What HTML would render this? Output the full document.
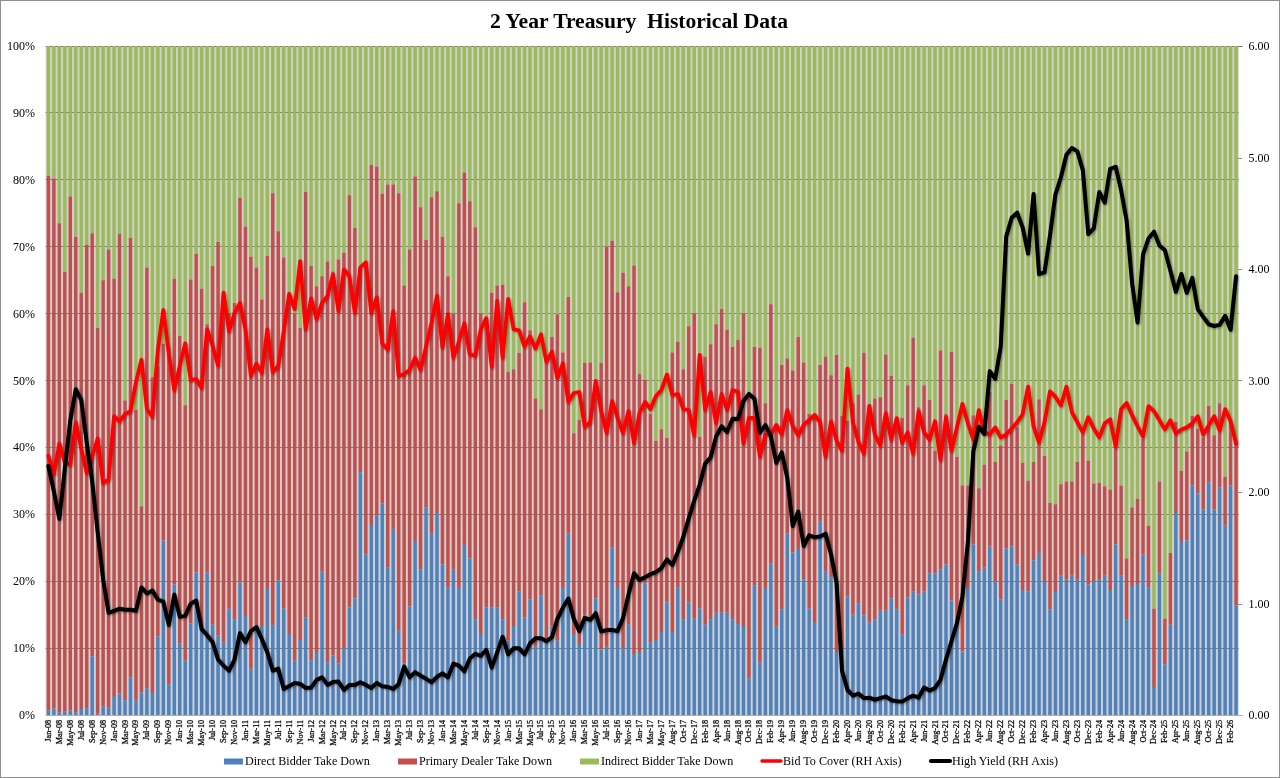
<!DOCTYPE html>
<html lang="en"><head><meta charset="utf-8"><title>2 Year Treasury Historical Data</title>
<style>
html,body{margin:0;padding:0;background:#fff;}
body{width:1280px;height:778px;overflow:hidden;font-family:"Liberation Serif",serif;}
svg{display:block;}
text{font-family:"Liberation Serif",serif;fill:#000;}
</style></head><body>
<svg width="1280" height="778" viewBox="0 0 1280 778">
<defs>
<filter id="sh" x="-5%" y="-5%" width="110%" height="110%"><feGaussianBlur in="SourceAlpha" stdDeviation="1.0"/><feOffset dx="1.2" dy="1.2"/><feComponentTransfer><feFuncA type="linear" slope="0.4"/></feComponentTransfer><feMerge><feMergeNode/><feMergeNode in="SourceGraphic"/></feMerge></filter>
</defs>
<rect x="0" y="0" width="1280" height="778" fill="#ffffff"/>
<rect x="0.5" y="0.5" width="1279" height="777" fill="none" stroke="#8e8e8e" stroke-width="1"/>
<rect x="45.66" y="46.0" width="1193.1399999999999" height="669.0" fill="#d0d0d0"/>
<line x1="45.66" y1="648.5" x2="1238.8" y2="648.5" stroke="#868686" stroke-width="1"/>
<line x1="45.66" y1="581.5" x2="1238.8" y2="581.5" stroke="#868686" stroke-width="1"/>
<line x1="45.66" y1="514.5" x2="1238.8" y2="514.5" stroke="#868686" stroke-width="1"/>
<line x1="45.66" y1="447.5" x2="1238.8" y2="447.5" stroke="#868686" stroke-width="1"/>
<line x1="45.66" y1="380.5" x2="1238.8" y2="380.5" stroke="#868686" stroke-width="1"/>
<line x1="45.66" y1="313.5" x2="1238.8" y2="313.5" stroke="#868686" stroke-width="1"/>
<line x1="45.66" y1="246.5" x2="1238.8" y2="246.5" stroke="#868686" stroke-width="1"/>
<line x1="45.66" y1="179.5" x2="1238.8" y2="179.5" stroke="#868686" stroke-width="1"/>
<line x1="45.66" y1="112.5" x2="1238.8" y2="112.5" stroke="#868686" stroke-width="1"/>
<line x1="45.66" y1="46.5" x2="1242.8" y2="46.5" stroke="#7a7a6a" stroke-width="1"/>
<line x1="45.66" y1="715.5" x2="1242.8" y2="715.5" stroke="#b0b0b0" stroke-width="1"/>
<path fill="#9bbb59" d="M46.65 46.0h3.5V175.79h-3.5zM52.12 46.0h3.5V178.46h-3.5zM57.59 46.0h3.5V223.29h-3.5zM63.07 46.0h3.5V272.12h-3.5zM68.54 46.0h3.5V196.52h-3.5zM74.01 46.0h3.5V236.67h-3.5zM79.49 46.0h3.5V292.86h-3.5zM84.96 46.0h3.5V244.69h-3.5zM90.43 46.0h3.5V233.32h-3.5zM95.90 46.0h3.5V327.65h-3.5zM101.38 46.0h3.5V280.15h-3.5zM106.85 46.0h3.5V249.38h-3.5zM112.32 46.0h3.5V278.81h-3.5zM117.80 46.0h3.5V233.99h-3.5zM123.27 46.0h3.5V400.57h-3.5zM128.74 46.0h3.5V238.00h-3.5zM134.22 46.0h3.5V409.94h-3.5zM139.69 46.0h3.5V506.27h-3.5zM145.16 46.0h3.5V267.44h-3.5zM150.64 46.0h3.5V377.15h-3.5zM156.11 46.0h3.5V367.12h-3.5zM161.58 46.0h3.5V343.70h-3.5zM167.06 46.0h3.5V347.05h-3.5zM172.53 46.0h3.5V278.81h-3.5zM178.00 46.0h3.5V335.68h-3.5zM183.47 46.0h3.5V405.25h-3.5zM188.95 46.0h3.5V279.48h-3.5zM194.42 46.0h3.5V254.06h-3.5zM199.89 46.0h3.5V288.85h-3.5zM205.37 46.0h3.5V324.30h-3.5zM210.84 46.0h3.5V266.10h-3.5zM216.31 46.0h3.5V242.02h-3.5zM221.79 46.0h3.5V293.53h-3.5zM227.26 46.0h3.5V313.60h-3.5zM232.73 46.0h3.5V302.90h-3.5zM238.21 46.0h3.5V197.86h-3.5zM243.68 46.0h3.5V226.63h-3.5zM249.15 46.0h3.5V256.73h-3.5zM254.63 46.0h3.5V267.44h-3.5zM260.10 46.0h3.5V299.55h-3.5zM265.57 46.0h3.5V256.07h-3.5zM271.04 46.0h3.5V193.18h-3.5zM276.52 46.0h3.5V231.31h-3.5zM281.99 46.0h3.5V257.40h-3.5zM287.46 46.0h3.5V293.53h-3.5zM292.94 46.0h3.5V313.60h-3.5zM298.41 46.0h3.5V327.65h-3.5zM303.88 46.0h3.5V191.84h-3.5zM309.36 46.0h3.5V266.10h-3.5zM314.83 46.0h3.5V286.17h-3.5zM320.30 46.0h3.5V276.14h-3.5zM325.78 46.0h3.5V261.42h-3.5zM331.25 46.0h3.5V271.45h-3.5zM336.72 46.0h3.5V259.41h-3.5zM342.19 46.0h3.5V252.72h-3.5zM347.67 46.0h3.5V195.19h-3.5zM353.14 46.0h3.5V227.97h-3.5zM358.61 46.0h3.5V266.77h-3.5zM364.09 46.0h3.5V266.77h-3.5zM369.56 46.0h3.5V165.08h-3.5zM375.03 46.0h3.5V166.42h-3.5zM380.51 46.0h3.5V193.85h-3.5zM385.98 46.0h3.5V184.48h-3.5zM391.45 46.0h3.5V184.48h-3.5zM396.93 46.0h3.5V193.18h-3.5zM402.40 46.0h3.5V285.50h-3.5zM407.87 46.0h3.5V249.38h-3.5zM413.35 46.0h3.5V176.45h-3.5zM418.82 46.0h3.5V207.23h-3.5zM424.29 46.0h3.5V240.01h-3.5zM429.76 46.0h3.5V197.19h-3.5zM435.24 46.0h3.5V191.17h-3.5zM440.71 46.0h3.5V236.67h-3.5zM446.18 46.0h3.5V276.14h-3.5zM451.66 46.0h3.5V313.60h-3.5zM457.13 46.0h3.5V203.21h-3.5zM462.60 46.0h3.5V172.44h-3.5zM468.08 46.0h3.5V201.21h-3.5zM473.55 46.0h3.5V227.30h-3.5zM479.02 46.0h3.5V313.60h-3.5zM484.50 46.0h3.5V317.61h-3.5zM489.97 46.0h3.5V292.86h-3.5zM495.44 46.0h3.5V285.50h-3.5zM500.92 46.0h3.5V284.83h-3.5zM506.39 46.0h3.5V371.80h-3.5zM511.86 46.0h3.5V369.13h-3.5zM517.33 46.0h3.5V353.07h-3.5zM522.81 46.0h3.5V302.23h-3.5zM528.28 46.0h3.5V330.33h-3.5zM533.75 46.0h3.5V398.56h-3.5zM539.23 46.0h3.5V409.27h-3.5zM544.70 46.0h3.5V360.43h-3.5zM550.17 46.0h3.5V337.02h-3.5zM555.65 46.0h3.5V314.27h-3.5zM561.12 46.0h3.5V352.40h-3.5zM566.59 46.0h3.5V296.88h-3.5zM572.07 46.0h3.5V433.35h-3.5zM577.54 46.0h3.5V419.97h-3.5zM583.01 46.0h3.5V363.11h-3.5zM588.49 46.0h3.5V362.44h-3.5zM593.96 46.0h3.5V380.50h-3.5zM599.43 46.0h3.5V363.11h-3.5zM604.90 46.0h3.5V246.70h-3.5zM610.38 46.0h3.5V240.68h-3.5zM615.85 46.0h3.5V292.19h-3.5zM621.32 46.0h3.5V272.79h-3.5zM626.80 46.0h3.5V286.17h-3.5zM632.27 46.0h3.5V265.43h-3.5zM637.74 46.0h3.5V373.81h-3.5zM643.22 46.0h3.5V379.83h-3.5zM648.69 46.0h3.5V413.95h-3.5zM654.16 46.0h3.5V440.71h-3.5zM659.64 46.0h3.5V429.34h-3.5zM665.11 46.0h3.5V438.03h-3.5zM670.58 46.0h3.5V352.40h-3.5zM676.06 46.0h3.5V341.70h-3.5zM681.53 46.0h3.5V369.13h-3.5zM687.00 46.0h3.5V326.31h-3.5zM692.47 46.0h3.5V313.60h-3.5zM697.95 46.0h3.5V436.70h-3.5zM703.42 46.0h3.5V357.08h-3.5zM708.89 46.0h3.5V344.37h-3.5zM714.37 46.0h3.5V324.30h-3.5zM719.84 46.0h3.5V308.92h-3.5zM725.31 46.0h3.5V329.66h-3.5zM730.79 46.0h3.5V347.05h-3.5zM736.26 46.0h3.5V339.69h-3.5zM741.73 46.0h3.5V313.60h-3.5zM747.21 46.0h3.5V393.88h-3.5zM752.68 46.0h3.5V347.05h-3.5zM758.15 46.0h3.5V347.72h-3.5zM763.63 46.0h3.5V403.25h-3.5zM769.10 46.0h3.5V304.23h-3.5zM774.57 46.0h3.5V423.99h-3.5zM780.04 46.0h3.5V365.11h-3.5zM785.52 46.0h3.5V358.42h-3.5zM790.99 46.0h3.5V370.46h-3.5zM796.46 46.0h3.5V337.02h-3.5zM801.94 46.0h3.5V362.44h-3.5zM807.41 46.0h3.5V413.95h-3.5zM812.88 46.0h3.5V413.95h-3.5zM818.36 46.0h3.5V365.11h-3.5zM823.83 46.0h3.5V356.42h-3.5zM829.30 46.0h3.5V375.15h-3.5zM834.78 46.0h3.5V355.08h-3.5zM840.25 46.0h3.5V415.96h-3.5zM845.72 46.0h3.5V420.64h-3.5zM851.20 46.0h3.5V403.25h-3.5zM856.67 46.0h3.5V394.55h-3.5zM862.14 46.0h3.5V353.07h-3.5zM867.61 46.0h3.5V403.91h-3.5zM873.09 46.0h3.5V398.56h-3.5zM878.56 46.0h3.5V397.23h-3.5zM884.03 46.0h3.5V354.41h-3.5zM889.51 46.0h3.5V375.82h-3.5zM894.98 46.0h3.5V417.96h-3.5zM900.45 46.0h3.5V417.96h-3.5zM905.93 46.0h3.5V385.18h-3.5zM911.40 46.0h3.5V337.68h-3.5zM916.87 46.0h3.5V407.26h-3.5zM922.35 46.0h3.5V385.18h-3.5zM927.82 46.0h3.5V399.90h-3.5zM933.29 46.0h3.5V450.75h-3.5zM938.76 46.0h3.5V350.39h-3.5zM944.24 46.0h3.5V413.95h-3.5zM949.71 46.0h3.5V351.73h-3.5zM955.18 46.0h3.5V456.77h-3.5zM960.66 46.0h3.5V485.53h-3.5zM966.13 46.0h3.5V485.53h-3.5zM971.60 46.0h3.5V415.29h-3.5zM977.08 46.0h3.5V488.21h-3.5zM982.55 46.0h3.5V464.79h-3.5zM988.02 46.0h3.5V391.87h-3.5zM993.50 46.0h3.5V462.12h-3.5zM998.97 46.0h3.5V445.39h-3.5zM1004.44 46.0h3.5V399.90h-3.5zM1009.92 46.0h3.5V383.85h-3.5zM1015.39 46.0h3.5V427.33h-3.5zM1020.86 46.0h3.5V462.79h-3.5zM1026.33 46.0h3.5V480.85h-3.5zM1031.81 46.0h3.5V462.12h-3.5zM1037.28 46.0h3.5V399.23h-3.5zM1042.75 46.0h3.5V456.10h-3.5zM1048.23 46.0h3.5V502.93h-3.5zM1053.70 46.0h3.5V504.26h-3.5zM1059.17 46.0h3.5V484.20h-3.5zM1064.65 46.0h3.5V481.52h-3.5zM1070.12 46.0h3.5V481.52h-3.5zM1075.59 46.0h3.5V462.12h-3.5zM1081.07 46.0h3.5V434.02h-3.5zM1086.54 46.0h3.5V460.78h-3.5zM1092.01 46.0h3.5V483.53h-3.5zM1097.49 46.0h3.5V482.86h-3.5zM1102.96 46.0h3.5V486.20h-3.5zM1108.43 46.0h3.5V489.55h-3.5zM1113.90 46.0h3.5V447.40h-3.5zM1119.38 46.0h3.5V485.53h-3.5zM1124.85 46.0h3.5V558.45h-3.5zM1130.32 46.0h3.5V507.61h-3.5zM1135.80 46.0h3.5V498.91h-3.5zM1141.27 46.0h3.5V438.70h-3.5zM1146.74 46.0h3.5V525.67h-3.5zM1152.22 46.0h3.5V608.63h-3.5zM1157.69 46.0h3.5V481.52h-3.5zM1163.16 46.0h3.5V618.66h-3.5zM1168.64 46.0h3.5V553.10h-3.5zM1174.11 46.0h3.5V421.98h-3.5zM1179.58 46.0h3.5V470.81h-3.5zM1185.06 46.0h3.5V451.41h-3.5zM1190.53 46.0h3.5V415.96h-3.5zM1196.00 46.0h3.5V428.67h-3.5zM1201.47 46.0h3.5V437.37h-3.5zM1206.95 46.0h3.5V405.92h-3.5zM1212.42 46.0h3.5V435.36h-3.5zM1217.89 46.0h3.5V403.25h-3.5zM1223.37 46.0h3.5V476.84h-3.5zM1228.84 46.0h3.5V421.31h-3.5zM1234.31 46.0h3.5V442.72h-3.5z"/>
<path fill="#c0504d" d="M46.65 175.79h3.5V710.32h-3.5zM52.12 178.46h3.5V708.31h-3.5zM57.59 223.29h3.5V712.32h-3.5zM63.07 272.12h3.5V711.65h-3.5zM68.54 196.52h3.5V710.32h-3.5zM74.01 236.67h3.5V712.32h-3.5zM79.49 292.86h3.5V708.98h-3.5zM84.96 244.69h3.5V708.31h-3.5zM90.43 233.32h3.5V656.13h-3.5zM95.90 327.65h3.5V713.66h-3.5zM101.38 280.15h3.5V706.30h-3.5zM106.85 249.38h3.5V707.64h-3.5zM112.32 278.81h3.5V696.94h-3.5zM117.80 233.99h3.5V693.59h-3.5zM123.27 400.57h3.5V700.28h-3.5zM128.74 238.00h3.5V677.54h-3.5zM134.22 409.94h3.5V700.28h-3.5zM139.69 506.27h3.5V692.25h-3.5zM145.16 267.44h3.5V688.24h-3.5zM150.64 377.15h3.5V692.92h-3.5zM156.11 367.12h3.5V636.39h-3.5zM161.58 343.70h3.5V540.39h-3.5zM167.06 347.05h3.5V684.23h-3.5zM172.53 278.81h3.5V584.54h-3.5zM178.00 335.68h3.5V643.42h-3.5zM183.47 405.25h3.5V660.81h-3.5zM188.95 279.48h3.5V623.35h-3.5zM194.42 254.06h3.5V572.50h-3.5zM199.89 288.85h3.5V629.37h-3.5zM205.37 324.30h3.5V572.50h-3.5zM210.84 266.10h3.5V624.68h-3.5zM216.31 242.02h3.5V635.39h-3.5zM221.79 293.53h3.5V642.75h-3.5zM227.26 313.60h3.5V608.63h-3.5zM232.73 302.90h3.5V619.33h-3.5zM238.21 197.86h3.5V582.54h-3.5zM243.68 226.63h3.5V615.99h-3.5zM249.15 256.73h3.5V668.84h-3.5zM254.63 267.44h3.5V625.35h-3.5zM260.10 299.55h3.5V626.02h-3.5zM265.57 256.07h3.5V587.89h-3.5zM271.04 193.18h3.5V625.35h-3.5zM276.52 231.31h3.5V580.53h-3.5zM281.99 257.40h3.5V608.63h-3.5zM287.46 293.53h3.5V634.05h-3.5zM292.94 313.60h3.5V660.81h-3.5zM298.41 327.65h3.5V640.07h-3.5zM303.88 191.84h3.5V617.33h-3.5zM309.36 266.10h3.5V660.14h-3.5zM314.83 286.17h3.5V652.11h-3.5zM320.30 276.14h3.5V571.83h-3.5zM325.78 261.42h3.5V662.15h-3.5zM331.25 271.45h3.5V655.46h-3.5zM336.72 259.41h3.5V663.49h-3.5zM342.19 252.72h3.5V648.10h-3.5zM347.67 195.19h3.5V607.29h-3.5zM353.14 227.97h3.5V598.59h-3.5zM358.61 266.77h3.5V472.15h-3.5zM364.09 266.77h3.5V554.44h-3.5zM369.56 165.08h3.5V525.00h-3.5zM375.03 166.42h3.5V515.64h-3.5zM380.51 193.85h3.5V503.60h-3.5zM385.98 184.48h3.5V567.82h-3.5zM391.45 184.48h3.5V529.69h-3.5zM396.93 193.18h3.5V630.71h-3.5zM402.40 285.50h3.5V663.49h-3.5zM407.87 249.38h3.5V606.62h-3.5zM413.35 176.45h3.5V541.06h-3.5zM418.82 207.23h3.5V569.16h-3.5zM424.29 240.01h3.5V507.61h-3.5zM429.76 197.19h3.5V533.70h-3.5zM435.24 191.17h3.5V512.96h-3.5zM440.71 236.67h3.5V564.48h-3.5zM446.18 276.14h3.5V587.22h-3.5zM451.66 313.60h3.5V569.83h-3.5zM457.13 203.21h3.5V587.89h-3.5zM462.60 172.44h3.5V545.07h-3.5zM468.08 201.21h3.5V558.45h-3.5zM473.55 227.30h3.5V619.33h-3.5zM479.02 313.60h3.5V634.05h-3.5zM484.50 317.61h3.5V607.29h-3.5zM489.97 292.86h3.5V607.29h-3.5zM495.44 285.50h3.5V607.29h-3.5zM500.92 284.83h3.5V619.33h-3.5zM506.39 371.80h3.5V640.74h-3.5zM511.86 369.13h3.5V626.02h-3.5zM517.33 353.07h3.5V591.24h-3.5zM522.81 302.23h3.5V617.33h-3.5zM528.28 330.33h3.5V599.26h-3.5zM533.75 398.56h3.5V646.76h-3.5zM539.23 409.27h3.5V595.25h-3.5zM544.70 360.43h3.5V642.75h-3.5zM550.17 337.02h3.5V626.69h-3.5zM555.65 314.27h3.5V640.74h-3.5zM561.12 352.40h3.5V587.89h-3.5zM566.59 296.88h3.5V533.70h-3.5zM572.07 433.35h3.5V634.05h-3.5zM577.54 419.97h3.5V644.09h-3.5zM583.01 363.11h3.5V615.32h-3.5zM588.49 362.44h3.5V618.66h-3.5zM593.96 380.50h3.5V598.59h-3.5zM599.43 363.11h3.5V649.44h-3.5zM604.90 246.70h3.5V646.76h-3.5zM610.38 240.68h3.5V547.75h-3.5zM615.85 292.19h3.5V587.89h-3.5zM621.32 272.79h3.5V648.10h-3.5zM626.80 286.17h3.5V624.68h-3.5zM632.27 265.43h3.5V654.12h-3.5zM637.74 373.81h3.5V652.11h-3.5zM643.22 379.83h3.5V583.21h-3.5zM648.69 413.95h3.5V642.75h-3.5zM654.16 440.71h3.5V640.07h-3.5zM659.64 429.34h3.5V632.04h-3.5zM665.11 438.03h3.5V602.61h-3.5zM670.58 352.40h3.5V632.04h-3.5zM676.06 341.70h3.5V587.22h-3.5zM681.53 369.13h3.5V619.33h-3.5zM687.00 326.31h3.5V602.61h-3.5zM692.47 313.60h3.5V618.66h-3.5zM697.95 436.70h3.5V608.63h-3.5zM703.42 357.08h3.5V624.68h-3.5zM708.89 344.37h3.5V619.33h-3.5zM714.37 324.30h3.5V612.64h-3.5zM719.84 308.92h3.5V612.64h-3.5zM725.31 329.66h3.5V612.64h-3.5zM730.79 347.05h3.5V619.33h-3.5zM736.26 339.69h3.5V624.02h-3.5zM741.73 313.60h3.5V626.02h-3.5zM747.21 393.88h3.5V678.87h-3.5zM752.68 347.05h3.5V585.21h-3.5zM758.15 347.72h3.5V662.15h-3.5zM763.63 403.25h3.5V587.89h-3.5zM769.10 304.23h3.5V563.81h-3.5zM774.57 423.99h3.5V626.69h-3.5zM780.04 365.11h3.5V609.30h-3.5zM785.52 358.42h3.5V533.70h-3.5zM790.99 370.46h3.5V552.43h-3.5zM796.46 337.02h3.5V549.09h-3.5zM801.94 362.44h3.5V579.19h-3.5zM807.41 413.95h3.5V608.63h-3.5zM812.88 413.95h3.5V622.01h-3.5zM818.36 365.11h3.5V521.66h-3.5zM823.83 356.42h3.5V571.83h-3.5zM829.30 375.15h3.5V577.19h-3.5zM834.78 355.08h3.5V652.11h-3.5zM840.25 415.96h3.5V648.10h-3.5zM845.72 420.64h3.5V596.59h-3.5zM851.20 403.25h3.5V614.65h-3.5zM856.67 394.55h3.5V603.28h-3.5zM862.14 353.07h3.5V615.32h-3.5zM867.61 403.91h3.5V622.68h-3.5zM873.09 398.56h3.5V619.33h-3.5zM878.56 397.23h3.5V610.64h-3.5zM884.03 354.41h3.5V610.64h-3.5zM889.51 375.82h3.5V598.59h-3.5zM894.98 417.96h3.5V609.30h-3.5zM900.45 417.96h3.5V634.72h-3.5zM905.93 385.18h3.5V597.26h-3.5zM911.40 337.68h3.5V591.24h-3.5zM916.87 407.26h3.5V594.58h-3.5zM922.35 385.18h3.5V591.24h-3.5zM927.82 399.90h3.5V573.17h-3.5zM933.29 450.75h3.5V573.17h-3.5zM938.76 350.39h3.5V569.16h-3.5zM944.24 413.95h3.5V564.48h-3.5zM949.71 351.73h3.5V600.60h-3.5zM955.18 456.77h3.5V626.02h-3.5zM960.66 485.53h3.5V651.45h-3.5zM966.13 485.53h3.5V587.89h-3.5zM971.60 415.29h3.5V544.40h-3.5zM977.08 488.21h3.5V571.83h-3.5zM982.55 464.79h3.5V567.82h-3.5zM988.02 391.87h3.5V546.41h-3.5zM993.50 462.12h3.5V581.20h-3.5zM998.97 445.39h3.5V599.26h-3.5zM1004.44 399.90h3.5V548.42h-3.5zM1009.92 383.85h3.5V546.41h-3.5zM1015.39 427.33h3.5V564.48h-3.5zM1020.86 462.79h3.5V589.90h-3.5zM1026.33 480.85h3.5V591.24h-3.5zM1031.81 462.12h3.5V560.46h-3.5zM1037.28 399.23h3.5V553.10h-3.5zM1042.75 456.10h3.5V581.87h-3.5zM1048.23 502.93h3.5V609.30h-3.5zM1053.70 504.26h3.5V591.90h-3.5zM1059.17 484.20h3.5V575.85h-3.5zM1064.65 481.52h3.5V579.86h-3.5zM1070.12 481.52h3.5V575.85h-3.5zM1075.59 462.12h3.5V579.86h-3.5zM1081.07 434.02h3.5V555.11h-3.5zM1086.54 460.78h3.5V584.54h-3.5zM1092.01 483.53h3.5V581.20h-3.5zM1097.49 482.86h3.5V579.86h-3.5zM1102.96 486.20h3.5V575.85h-3.5zM1108.43 489.55h3.5V589.90h-3.5zM1113.90 447.40h3.5V544.40h-3.5zM1119.38 485.53h3.5V575.85h-3.5zM1124.85 558.45h3.5V619.33h-3.5zM1130.32 507.61h3.5V585.88h-3.5zM1135.80 498.91h3.5V583.88h-3.5zM1141.27 438.70h3.5V554.44h-3.5zM1146.74 525.67h3.5V587.22h-3.5zM1152.22 608.63h3.5V686.90h-3.5zM1157.69 481.52h3.5V573.17h-3.5zM1163.16 618.66h3.5V664.16h-3.5zM1168.64 553.10h3.5V624.68h-3.5zM1174.11 421.98h3.5V512.96h-3.5zM1179.58 470.81h3.5V541.06h-3.5zM1185.06 451.41h3.5V540.39h-3.5zM1190.53 415.96h3.5V485.53h-3.5zM1196.00 428.67h3.5V493.56h-3.5zM1201.47 437.37h3.5V509.62h-3.5zM1206.95 405.92h3.5V482.19h-3.5zM1212.42 435.36h3.5V509.62h-3.5zM1217.89 403.25h3.5V487.54h-3.5zM1223.37 476.84h3.5V525.67h-3.5zM1228.84 421.31h3.5V485.53h-3.5zM1234.31 442.72h3.5V605.28h-3.5z"/>
<path fill="#4f81bd" d="M46.65 710.32h3.5V715.0h-3.5zM52.12 708.31h3.5V715.0h-3.5zM57.59 712.32h3.5V715.0h-3.5zM63.07 711.65h3.5V715.0h-3.5zM68.54 710.32h3.5V715.0h-3.5zM74.01 712.32h3.5V715.0h-3.5zM79.49 708.98h3.5V715.0h-3.5zM84.96 708.31h3.5V715.0h-3.5zM90.43 656.13h3.5V715.0h-3.5zM95.90 713.66h3.5V715.0h-3.5zM101.38 706.30h3.5V715.0h-3.5zM106.85 707.64h3.5V715.0h-3.5zM112.32 696.94h3.5V715.0h-3.5zM117.80 693.59h3.5V715.0h-3.5zM123.27 700.28h3.5V715.0h-3.5zM128.74 677.54h3.5V715.0h-3.5zM134.22 700.28h3.5V715.0h-3.5zM139.69 692.25h3.5V715.0h-3.5zM145.16 688.24h3.5V715.0h-3.5zM150.64 692.92h3.5V715.0h-3.5zM156.11 636.39h3.5V715.0h-3.5zM161.58 540.39h3.5V715.0h-3.5zM167.06 684.23h3.5V715.0h-3.5zM172.53 584.54h3.5V715.0h-3.5zM178.00 643.42h3.5V715.0h-3.5zM183.47 660.81h3.5V715.0h-3.5zM188.95 623.35h3.5V715.0h-3.5zM194.42 572.50h3.5V715.0h-3.5zM199.89 629.37h3.5V715.0h-3.5zM205.37 572.50h3.5V715.0h-3.5zM210.84 624.68h3.5V715.0h-3.5zM216.31 635.39h3.5V715.0h-3.5zM221.79 642.75h3.5V715.0h-3.5zM227.26 608.63h3.5V715.0h-3.5zM232.73 619.33h3.5V715.0h-3.5zM238.21 582.54h3.5V715.0h-3.5zM243.68 615.99h3.5V715.0h-3.5zM249.15 668.84h3.5V715.0h-3.5zM254.63 625.35h3.5V715.0h-3.5zM260.10 626.02h3.5V715.0h-3.5zM265.57 587.89h3.5V715.0h-3.5zM271.04 625.35h3.5V715.0h-3.5zM276.52 580.53h3.5V715.0h-3.5zM281.99 608.63h3.5V715.0h-3.5zM287.46 634.05h3.5V715.0h-3.5zM292.94 660.81h3.5V715.0h-3.5zM298.41 640.07h3.5V715.0h-3.5zM303.88 617.33h3.5V715.0h-3.5zM309.36 660.14h3.5V715.0h-3.5zM314.83 652.11h3.5V715.0h-3.5zM320.30 571.83h3.5V715.0h-3.5zM325.78 662.15h3.5V715.0h-3.5zM331.25 655.46h3.5V715.0h-3.5zM336.72 663.49h3.5V715.0h-3.5zM342.19 648.10h3.5V715.0h-3.5zM347.67 607.29h3.5V715.0h-3.5zM353.14 598.59h3.5V715.0h-3.5zM358.61 472.15h3.5V715.0h-3.5zM364.09 554.44h3.5V715.0h-3.5zM369.56 525.00h3.5V715.0h-3.5zM375.03 515.64h3.5V715.0h-3.5zM380.51 503.60h3.5V715.0h-3.5zM385.98 567.82h3.5V715.0h-3.5zM391.45 529.69h3.5V715.0h-3.5zM396.93 630.71h3.5V715.0h-3.5zM402.40 663.49h3.5V715.0h-3.5zM407.87 606.62h3.5V715.0h-3.5zM413.35 541.06h3.5V715.0h-3.5zM418.82 569.16h3.5V715.0h-3.5zM424.29 507.61h3.5V715.0h-3.5zM429.76 533.70h3.5V715.0h-3.5zM435.24 512.96h3.5V715.0h-3.5zM440.71 564.48h3.5V715.0h-3.5zM446.18 587.22h3.5V715.0h-3.5zM451.66 569.83h3.5V715.0h-3.5zM457.13 587.89h3.5V715.0h-3.5zM462.60 545.07h3.5V715.0h-3.5zM468.08 558.45h3.5V715.0h-3.5zM473.55 619.33h3.5V715.0h-3.5zM479.02 634.05h3.5V715.0h-3.5zM484.50 607.29h3.5V715.0h-3.5zM489.97 607.29h3.5V715.0h-3.5zM495.44 607.29h3.5V715.0h-3.5zM500.92 619.33h3.5V715.0h-3.5zM506.39 640.74h3.5V715.0h-3.5zM511.86 626.02h3.5V715.0h-3.5zM517.33 591.24h3.5V715.0h-3.5zM522.81 617.33h3.5V715.0h-3.5zM528.28 599.26h3.5V715.0h-3.5zM533.75 646.76h3.5V715.0h-3.5zM539.23 595.25h3.5V715.0h-3.5zM544.70 642.75h3.5V715.0h-3.5zM550.17 626.69h3.5V715.0h-3.5zM555.65 640.74h3.5V715.0h-3.5zM561.12 587.89h3.5V715.0h-3.5zM566.59 533.70h3.5V715.0h-3.5zM572.07 634.05h3.5V715.0h-3.5zM577.54 644.09h3.5V715.0h-3.5zM583.01 615.32h3.5V715.0h-3.5zM588.49 618.66h3.5V715.0h-3.5zM593.96 598.59h3.5V715.0h-3.5zM599.43 649.44h3.5V715.0h-3.5zM604.90 646.76h3.5V715.0h-3.5zM610.38 547.75h3.5V715.0h-3.5zM615.85 587.89h3.5V715.0h-3.5zM621.32 648.10h3.5V715.0h-3.5zM626.80 624.68h3.5V715.0h-3.5zM632.27 654.12h3.5V715.0h-3.5zM637.74 652.11h3.5V715.0h-3.5zM643.22 583.21h3.5V715.0h-3.5zM648.69 642.75h3.5V715.0h-3.5zM654.16 640.07h3.5V715.0h-3.5zM659.64 632.04h3.5V715.0h-3.5zM665.11 602.61h3.5V715.0h-3.5zM670.58 632.04h3.5V715.0h-3.5zM676.06 587.22h3.5V715.0h-3.5zM681.53 619.33h3.5V715.0h-3.5zM687.00 602.61h3.5V715.0h-3.5zM692.47 618.66h3.5V715.0h-3.5zM697.95 608.63h3.5V715.0h-3.5zM703.42 624.68h3.5V715.0h-3.5zM708.89 619.33h3.5V715.0h-3.5zM714.37 612.64h3.5V715.0h-3.5zM719.84 612.64h3.5V715.0h-3.5zM725.31 612.64h3.5V715.0h-3.5zM730.79 619.33h3.5V715.0h-3.5zM736.26 624.02h3.5V715.0h-3.5zM741.73 626.02h3.5V715.0h-3.5zM747.21 678.87h3.5V715.0h-3.5zM752.68 585.21h3.5V715.0h-3.5zM758.15 662.15h3.5V715.0h-3.5zM763.63 587.89h3.5V715.0h-3.5zM769.10 563.81h3.5V715.0h-3.5zM774.57 626.69h3.5V715.0h-3.5zM780.04 609.30h3.5V715.0h-3.5zM785.52 533.70h3.5V715.0h-3.5zM790.99 552.43h3.5V715.0h-3.5zM796.46 549.09h3.5V715.0h-3.5zM801.94 579.19h3.5V715.0h-3.5zM807.41 608.63h3.5V715.0h-3.5zM812.88 622.01h3.5V715.0h-3.5zM818.36 521.66h3.5V715.0h-3.5zM823.83 571.83h3.5V715.0h-3.5zM829.30 577.19h3.5V715.0h-3.5zM834.78 652.11h3.5V715.0h-3.5zM840.25 648.10h3.5V715.0h-3.5zM845.72 596.59h3.5V715.0h-3.5zM851.20 614.65h3.5V715.0h-3.5zM856.67 603.28h3.5V715.0h-3.5zM862.14 615.32h3.5V715.0h-3.5zM867.61 622.68h3.5V715.0h-3.5zM873.09 619.33h3.5V715.0h-3.5zM878.56 610.64h3.5V715.0h-3.5zM884.03 610.64h3.5V715.0h-3.5zM889.51 598.59h3.5V715.0h-3.5zM894.98 609.30h3.5V715.0h-3.5zM900.45 634.72h3.5V715.0h-3.5zM905.93 597.26h3.5V715.0h-3.5zM911.40 591.24h3.5V715.0h-3.5zM916.87 594.58h3.5V715.0h-3.5zM922.35 591.24h3.5V715.0h-3.5zM927.82 573.17h3.5V715.0h-3.5zM933.29 573.17h3.5V715.0h-3.5zM938.76 569.16h3.5V715.0h-3.5zM944.24 564.48h3.5V715.0h-3.5zM949.71 600.60h3.5V715.0h-3.5zM955.18 626.02h3.5V715.0h-3.5zM960.66 651.45h3.5V715.0h-3.5zM966.13 587.89h3.5V715.0h-3.5zM971.60 544.40h3.5V715.0h-3.5zM977.08 571.83h3.5V715.0h-3.5zM982.55 567.82h3.5V715.0h-3.5zM988.02 546.41h3.5V715.0h-3.5zM993.50 581.20h3.5V715.0h-3.5zM998.97 599.26h3.5V715.0h-3.5zM1004.44 548.42h3.5V715.0h-3.5zM1009.92 546.41h3.5V715.0h-3.5zM1015.39 564.48h3.5V715.0h-3.5zM1020.86 589.90h3.5V715.0h-3.5zM1026.33 591.24h3.5V715.0h-3.5zM1031.81 560.46h3.5V715.0h-3.5zM1037.28 553.10h3.5V715.0h-3.5zM1042.75 581.87h3.5V715.0h-3.5zM1048.23 609.30h3.5V715.0h-3.5zM1053.70 591.90h3.5V715.0h-3.5zM1059.17 575.85h3.5V715.0h-3.5zM1064.65 579.86h3.5V715.0h-3.5zM1070.12 575.85h3.5V715.0h-3.5zM1075.59 579.86h3.5V715.0h-3.5zM1081.07 555.11h3.5V715.0h-3.5zM1086.54 584.54h3.5V715.0h-3.5zM1092.01 581.20h3.5V715.0h-3.5zM1097.49 579.86h3.5V715.0h-3.5zM1102.96 575.85h3.5V715.0h-3.5zM1108.43 589.90h3.5V715.0h-3.5zM1113.90 544.40h3.5V715.0h-3.5zM1119.38 575.85h3.5V715.0h-3.5zM1124.85 619.33h3.5V715.0h-3.5zM1130.32 585.88h3.5V715.0h-3.5zM1135.80 583.88h3.5V715.0h-3.5zM1141.27 554.44h3.5V715.0h-3.5zM1146.74 587.22h3.5V715.0h-3.5zM1152.22 686.90h3.5V715.0h-3.5zM1157.69 573.17h3.5V715.0h-3.5zM1163.16 664.16h3.5V715.0h-3.5zM1168.64 624.68h3.5V715.0h-3.5zM1174.11 512.96h3.5V715.0h-3.5zM1179.58 541.06h3.5V715.0h-3.5zM1185.06 540.39h3.5V715.0h-3.5zM1190.53 485.53h3.5V715.0h-3.5zM1196.00 493.56h3.5V715.0h-3.5zM1201.47 509.62h3.5V715.0h-3.5zM1206.95 482.19h3.5V715.0h-3.5zM1212.42 509.62h3.5V715.0h-3.5zM1217.89 487.54h3.5V715.0h-3.5zM1223.37 525.67h3.5V715.0h-3.5zM1228.84 485.53h3.5V715.0h-3.5zM1234.31 605.28h3.5V715.0h-3.5z"/>
<line x1="45.66" y1="648.5" x2="1238.8" y2="648.5" stroke="#404040" stroke-width="1" opacity="0.05"/>
<line x1="45.66" y1="581.5" x2="1238.8" y2="581.5" stroke="#404040" stroke-width="1" opacity="0.05"/>
<line x1="45.66" y1="514.5" x2="1238.8" y2="514.5" stroke="#404040" stroke-width="1" opacity="0.05"/>
<line x1="45.66" y1="447.5" x2="1238.8" y2="447.5" stroke="#404040" stroke-width="1" opacity="0.05"/>
<line x1="45.66" y1="380.5" x2="1238.8" y2="380.5" stroke="#404040" stroke-width="1" opacity="0.05"/>
<line x1="45.66" y1="313.5" x2="1238.8" y2="313.5" stroke="#404040" stroke-width="1" opacity="0.05"/>
<line x1="45.66" y1="246.5" x2="1238.8" y2="246.5" stroke="#404040" stroke-width="1" opacity="0.05"/>
<line x1="45.66" y1="179.5" x2="1238.8" y2="179.5" stroke="#404040" stroke-width="1" opacity="0.05"/>
<line x1="45.66" y1="112.5" x2="1238.8" y2="112.5" stroke="#404040" stroke-width="1" opacity="0.05"/>
<polyline points="48.40,455.83 53.87,474.11 59.34,443.64 64.82,462.40 70.29,464.70 75.76,422.31 81.24,448.72 86.71,473.09 92.18,456.84 97.65,438.56 103.13,483.25 108.60,479.19 114.07,416.22 119.55,421.30 125.02,414.19 130.49,411.14 135.97,382.12 141.44,359.78 146.91,409.00 152.39,416.90 157.86,349.62 163.33,310.02 168.81,353.69 174.28,390.25 179.75,365.88 185.22,343.53 190.70,380.09 196.17,379.08 201.64,388.22 207.12,329.31 212.59,345.56 218.06,365.88 223.54,292.75 229.01,331.34 234.48,313.06 239.96,302.91 245.43,329.31 250.90,376.03 256.38,363.84 261.85,372.98 267.32,329.31 272.79,371.97 278.27,365.88 283.74,331.34 289.21,293.77 294.69,309.00 300.16,261.27 305.63,329.31 311.11,298.44 316.58,319.16 322.05,302.91 327.53,295.80 333.00,274.47 338.47,311.03 343.94,269.39 349.42,276.50 354.89,313.06 360.36,267.36 365.84,262.28 371.31,313.06 376.78,297.22 382.26,343.53 387.73,349.62 393.20,311.03 398.68,376.03 404.15,374.00 409.62,369.94 415.10,357.75 420.57,369.94 426.04,346.58 431.51,323.22 436.99,295.80 442.46,347.59 447.93,314.08 453.41,357.75 458.88,341.50 464.35,323.22 469.83,354.70 475.30,355.72 480.77,329.31 486.25,318.14 491.72,366.89 497.19,300.88 502.67,357.75 508.14,298.84 513.61,329.31 519.08,330.33 524.56,346.58 530.03,336.42 535.50,348.61 540.98,334.39 546.45,361.81 551.92,351.66 557.40,378.06 562.87,363.40 568.34,402.00 573.82,393.00 579.29,392.00 584.76,427.00 590.24,422.00 595.71,381.00 601.18,411.00 606.65,433.00 612.13,401.00 617.60,418.00 623.07,433.00 628.55,411.00 634.02,443.00 639.49,413.00 644.97,402.00 650.44,409.00 655.91,396.00 661.39,390.00 666.86,374.60 672.33,395.00 677.81,394.00 683.28,409.00 688.75,410.00 694.22,435.50 699.70,355.00 705.17,410.00 710.64,392.00 716.12,423.00 721.59,394.00 727.06,410.00 732.54,390.00 738.01,392.00 743.48,443.60 748.96,418.00 754.43,418.00 759.90,456.80 765.38,434.50 770.85,434.50 776.32,425.00 781.79,434.50 787.27,410.00 792.74,426.00 798.21,435.50 803.69,425.00 809.16,420.00 814.63,415.00 820.11,422.31 825.58,456.84 831.05,421.30 836.53,440.59 842.00,450.75 847.47,368.60 852.95,422.70 858.42,441.60 863.89,453.80 869.36,406.06 874.84,434.50 880.31,445.67 885.78,413.17 891.26,439.58 896.73,418.25 902.20,442.62 907.68,432.47 913.15,453.80 918.62,411.14 924.10,432.47 929.57,439.58 935.04,421.30 940.51,459.89 945.99,417.23 951.46,450.75 956.93,427.39 962.41,404.03 967.88,423.33 973.35,439.58 978.83,410.12 984.30,432.47 989.77,434.50 995.25,427.39 1000.72,437.55 1006.19,434.50 1011.67,428.41 1017.14,422.31 1022.61,414.19 1028.08,386.70 1033.56,426.38 1039.03,442.62 1044.50,422.31 1049.98,391.40 1055.45,396.90 1060.92,405.50 1066.40,386.70 1071.87,412.16 1077.34,422.31 1082.82,432.47 1088.29,417.23 1093.76,428.41 1099.24,437.55 1104.71,423.33 1110.18,419.27 1115.65,446.69 1121.13,409.11 1126.60,403.02 1132.07,415.20 1137.55,426.38 1143.02,436.53 1148.49,406.06 1153.97,411.14 1159.44,420.28 1164.91,429.42 1170.39,420.28 1175.86,433.48 1181.33,429.42 1186.81,427.39 1192.28,423.33 1197.75,416.22 1203.22,434.50 1208.70,425.36 1214.17,416.22 1219.64,430.44 1225.12,409.11 1230.59,421.30 1236.06,443.64" fill="none" stroke="#ff0000" stroke-width="3.8" stroke-linejoin="round" stroke-linecap="round" filter="url(#sh)"/>
<polyline points="48.40,465.98 53.87,491.38 59.34,518.80 64.82,469.03 70.29,420.28 75.76,389.20 81.24,399.97 86.71,442.62 92.18,481.22 97.65,532.00 103.13,579.30 108.60,612.81 114.07,610.78 119.55,608.75 125.02,609.77 130.49,609.77 135.97,610.78 141.44,587.42 146.91,593.52 152.39,590.47 157.86,599.61 163.33,601.64 168.81,625.00 174.28,594.53 179.75,616.88 185.22,615.86 190.70,603.67 196.17,600.62 201.64,629.06 207.12,635.16 212.59,642.27 218.06,659.53 223.54,665.62 229.01,670.70 234.48,659.53 239.96,633.12 245.43,642.27 250.90,631.09 256.38,627.03 261.85,639.22 267.32,652.42 272.79,670.70 278.27,668.67 283.74,688.98 289.21,685.94 294.69,682.89 300.16,683.91 305.63,687.97 311.11,687.56 316.58,679.84 322.05,677.41 327.53,684.92 333.00,681.88 338.47,681.47 343.94,690.00 349.42,684.92 354.89,684.92 360.36,682.28 365.84,684.92 371.31,687.97 376.78,682.89 382.26,686.34 387.73,686.95 393.20,688.98 398.68,683.91 404.15,666.64 409.62,677.41 415.10,672.12 420.57,675.78 426.04,678.83 431.51,682.28 436.99,676.80 442.46,673.34 447.93,677.41 453.41,663.59 458.88,665.62 464.35,671.31 469.83,658.52 475.30,653.84 480.77,655.88 486.25,649.78 491.72,667.66 497.19,652.42 502.67,636.78 508.14,654.45 513.61,648.36 519.08,648.36 524.56,654.45 530.03,643.28 535.50,638.20 540.98,638.20 546.45,641.25 551.92,637.19 557.40,618.91 562.87,607.73 568.34,598.59 573.82,618.91 579.29,631.09 584.76,617.89 590.24,619.92 595.71,613.22 601.18,631.50 606.65,630.08 612.13,630.08 617.60,631.09 623.07,617.89 628.55,594.53 634.02,573.20 639.49,579.91 644.97,577.27 650.44,574.22 655.91,572.19 661.39,568.12 666.86,559.46 672.33,565.03 677.81,551.99 683.28,537.05 688.75,518.20 694.22,500.70 699.70,484.64 705.17,463.57 710.64,457.44 716.12,436.47 721.59,426.22 727.06,432.01 732.54,418.74 738.01,418.97 743.48,400.90 748.96,393.88 754.43,398.79 759.90,432.46 765.38,425.10 770.85,436.03 776.32,462.90 781.79,452.42 787.27,478.06 792.74,526.01 798.21,511.51 803.69,545.97 809.16,535.26 814.63,537.27 820.11,536.49 825.58,533.70 831.05,554.44 836.53,582.54 842.00,670.62 847.47,690.00 852.95,695.69 858.42,693.66 863.89,698.12 869.36,697.72 874.84,699.75 880.31,698.12 885.78,696.50 891.26,700.16 896.73,701.17 902.20,701.58 907.68,698.12 913.15,695.69 918.62,697.72 924.10,687.56 929.57,690.61 935.04,687.97 940.51,679.84 945.99,659.53 951.46,641.25 956.93,622.97 962.41,596.56 967.88,541.84 973.35,451.30 978.83,426.77 984.30,434.13 989.77,371.13 995.25,378.83 1000.72,346.27 1006.19,236.67 1011.67,217.71 1017.14,212.69 1022.61,227.41 1028.08,253.50 1033.56,193.96 1039.03,274.13 1044.50,272.46 1049.98,235.55 1055.45,194.29 1060.92,177.24 1066.40,154.82 1071.87,148.02 1077.34,151.37 1082.82,170.10 1088.29,233.99 1093.76,228.30 1099.24,191.95 1104.71,202.66 1110.18,168.87 1115.65,166.75 1121.13,190.28 1126.60,220.61 1132.07,283.05 1137.55,322.52 1143.02,254.50 1148.49,238.45 1153.97,231.65 1159.44,245.47 1164.91,250.16 1170.39,270.78 1175.86,291.86 1181.33,274.02 1186.81,292.86 1192.28,277.92 1197.75,309.03 1203.22,316.83 1208.70,324.30 1214.17,325.98 1219.64,324.86 1225.12,315.83 1230.59,329.77 1236.06,276.25" fill="none" stroke="#000000" stroke-width="4.0" stroke-linejoin="round" stroke-linecap="round" filter="url(#sh)"/>
<text x="639" y="28.4" text-anchor="middle" font-size="21.6" font-weight="bold" xml:space="preserve">2 Year Treasury  Historical Data</text>
<text x="35" y="719.0" text-anchor="end" font-size="12">0%</text>
<text x="35" y="652.1" text-anchor="end" font-size="12">10%</text>
<text x="35" y="585.2" text-anchor="end" font-size="12">20%</text>
<text x="35" y="518.3" text-anchor="end" font-size="12">30%</text>
<text x="35" y="451.4" text-anchor="end" font-size="12">40%</text>
<text x="35" y="384.5" text-anchor="end" font-size="12">50%</text>
<text x="35" y="317.6" text-anchor="end" font-size="12">60%</text>
<text x="35" y="250.7" text-anchor="end" font-size="12">70%</text>
<text x="35" y="183.8" text-anchor="end" font-size="12">80%</text>
<text x="35" y="116.9" text-anchor="end" font-size="12">90%</text>
<text x="35" y="50.0" text-anchor="end" font-size="12">100%</text>
<text x="1248.6" y="719.0" font-size="12">0.00</text>
<line x1="1238.3" y1="604.5" x2="1242.3" y2="604.5" stroke="#8a8a8a" stroke-width="1"/>
<text x="1248.6" y="607.5" font-size="12">1.00</text>
<line x1="1238.3" y1="492.5" x2="1242.3" y2="492.5" stroke="#8a8a8a" stroke-width="1"/>
<text x="1248.6" y="496.0" font-size="12">2.00</text>
<line x1="1238.3" y1="380.5" x2="1242.3" y2="380.5" stroke="#8a8a8a" stroke-width="1"/>
<text x="1248.6" y="384.5" font-size="12">3.00</text>
<line x1="1238.3" y1="269.5" x2="1242.3" y2="269.5" stroke="#8a8a8a" stroke-width="1"/>
<text x="1248.6" y="273.0" font-size="12">4.00</text>
<line x1="1238.3" y1="158.5" x2="1242.3" y2="158.5" stroke="#8a8a8a" stroke-width="1"/>
<text x="1248.6" y="161.5" font-size="12">5.00</text>
<text x="1248.6" y="50.0" font-size="12">6.00</text>
<text transform="translate(50.90,719.8) rotate(-90) scale(1.0,1)" text-anchor="end" font-size="8.2" stroke="#000" stroke-width="0.25">Jan-08</text>
<text transform="translate(61.84,719.8) rotate(-90) scale(1.0,1)" text-anchor="end" font-size="8.2" stroke="#000" stroke-width="0.25">Mar-08</text>
<text transform="translate(72.79,719.8) rotate(-90) scale(1.0,1)" text-anchor="end" font-size="8.2" stroke="#000" stroke-width="0.25">May-08</text>
<text transform="translate(83.74,719.8) rotate(-90) scale(1.0,1)" text-anchor="end" font-size="8.2" stroke="#000" stroke-width="0.25">Jul-08</text>
<text transform="translate(94.68,719.8) rotate(-90) scale(1.0,1)" text-anchor="end" font-size="8.2" stroke="#000" stroke-width="0.25">Sep-08</text>
<text transform="translate(105.63,719.8) rotate(-90) scale(1.0,1)" text-anchor="end" font-size="8.2" stroke="#000" stroke-width="0.25">Nov-08</text>
<text transform="translate(116.57,719.8) rotate(-90) scale(1.0,1)" text-anchor="end" font-size="8.2" stroke="#000" stroke-width="0.25">Jan-09</text>
<text transform="translate(127.52,719.8) rotate(-90) scale(1.0,1)" text-anchor="end" font-size="8.2" stroke="#000" stroke-width="0.25">Mar-09</text>
<text transform="translate(138.47,719.8) rotate(-90) scale(1.0,1)" text-anchor="end" font-size="8.2" stroke="#000" stroke-width="0.25">May-09</text>
<text transform="translate(149.41,719.8) rotate(-90) scale(1.0,1)" text-anchor="end" font-size="8.2" stroke="#000" stroke-width="0.25">Jul-09</text>
<text transform="translate(160.36,719.8) rotate(-90) scale(1.0,1)" text-anchor="end" font-size="8.2" stroke="#000" stroke-width="0.25">Sep-09</text>
<text transform="translate(171.31,719.8) rotate(-90) scale(1.0,1)" text-anchor="end" font-size="8.2" stroke="#000" stroke-width="0.25">Nov-09</text>
<text transform="translate(182.25,719.8) rotate(-90) scale(1.0,1)" text-anchor="end" font-size="8.2" stroke="#000" stroke-width="0.25">Jan-10</text>
<text transform="translate(193.20,719.8) rotate(-90) scale(1.0,1)" text-anchor="end" font-size="8.2" stroke="#000" stroke-width="0.25">Mar-10</text>
<text transform="translate(204.14,719.8) rotate(-90) scale(1.0,1)" text-anchor="end" font-size="8.2" stroke="#000" stroke-width="0.25">May-10</text>
<text transform="translate(215.09,719.8) rotate(-90) scale(1.0,1)" text-anchor="end" font-size="8.2" stroke="#000" stroke-width="0.25">Jul-10</text>
<text transform="translate(226.04,719.8) rotate(-90) scale(1.0,1)" text-anchor="end" font-size="8.2" stroke="#000" stroke-width="0.25">Sep-10</text>
<text transform="translate(236.98,719.8) rotate(-90) scale(1.0,1)" text-anchor="end" font-size="8.2" stroke="#000" stroke-width="0.25">Nov-10</text>
<text transform="translate(247.93,719.8) rotate(-90) scale(1.0,1)" text-anchor="end" font-size="8.2" stroke="#000" stroke-width="0.25">Jan-11</text>
<text transform="translate(258.88,719.8) rotate(-90) scale(1.0,1)" text-anchor="end" font-size="8.2" stroke="#000" stroke-width="0.25">Mar-11</text>
<text transform="translate(269.82,719.8) rotate(-90) scale(1.0,1)" text-anchor="end" font-size="8.2" stroke="#000" stroke-width="0.25">May-11</text>
<text transform="translate(280.77,719.8) rotate(-90) scale(1.0,1)" text-anchor="end" font-size="8.2" stroke="#000" stroke-width="0.25">Jul-11</text>
<text transform="translate(291.71,719.8) rotate(-90) scale(1.0,1)" text-anchor="end" font-size="8.2" stroke="#000" stroke-width="0.25">Sep-11</text>
<text transform="translate(302.66,719.8) rotate(-90) scale(1.0,1)" text-anchor="end" font-size="8.2" stroke="#000" stroke-width="0.25">Nov-11</text>
<text transform="translate(313.61,719.8) rotate(-90) scale(1.0,1)" text-anchor="end" font-size="8.2" stroke="#000" stroke-width="0.25">Jan-12</text>
<text transform="translate(324.55,719.8) rotate(-90) scale(1.0,1)" text-anchor="end" font-size="8.2" stroke="#000" stroke-width="0.25">Mar-12</text>
<text transform="translate(335.50,719.8) rotate(-90) scale(1.0,1)" text-anchor="end" font-size="8.2" stroke="#000" stroke-width="0.25">May-12</text>
<text transform="translate(346.44,719.8) rotate(-90) scale(1.0,1)" text-anchor="end" font-size="8.2" stroke="#000" stroke-width="0.25">Jul-12</text>
<text transform="translate(357.39,719.8) rotate(-90) scale(1.0,1)" text-anchor="end" font-size="8.2" stroke="#000" stroke-width="0.25">Sep-12</text>
<text transform="translate(368.34,719.8) rotate(-90) scale(1.0,1)" text-anchor="end" font-size="8.2" stroke="#000" stroke-width="0.25">Nov-12</text>
<text transform="translate(379.28,719.8) rotate(-90) scale(1.0,1)" text-anchor="end" font-size="8.2" stroke="#000" stroke-width="0.25">Jan-13</text>
<text transform="translate(390.23,719.8) rotate(-90) scale(1.0,1)" text-anchor="end" font-size="8.2" stroke="#000" stroke-width="0.25">Mar-13</text>
<text transform="translate(401.18,719.8) rotate(-90) scale(1.0,1)" text-anchor="end" font-size="8.2" stroke="#000" stroke-width="0.25">May-13</text>
<text transform="translate(412.12,719.8) rotate(-90) scale(1.0,1)" text-anchor="end" font-size="8.2" stroke="#000" stroke-width="0.25">Jul-13</text>
<text transform="translate(423.07,719.8) rotate(-90) scale(1.0,1)" text-anchor="end" font-size="8.2" stroke="#000" stroke-width="0.25">Sep-13</text>
<text transform="translate(434.01,719.8) rotate(-90) scale(1.0,1)" text-anchor="end" font-size="8.2" stroke="#000" stroke-width="0.25">Nov-13</text>
<text transform="translate(444.96,719.8) rotate(-90) scale(1.0,1)" text-anchor="end" font-size="8.2" stroke="#000" stroke-width="0.25">Jan-14</text>
<text transform="translate(455.91,719.8) rotate(-90) scale(1.0,1)" text-anchor="end" font-size="8.2" stroke="#000" stroke-width="0.25">Mar-14</text>
<text transform="translate(466.85,719.8) rotate(-90) scale(1.0,1)" text-anchor="end" font-size="8.2" stroke="#000" stroke-width="0.25">May-14</text>
<text transform="translate(477.80,719.8) rotate(-90) scale(1.0,1)" text-anchor="end" font-size="8.2" stroke="#000" stroke-width="0.25">Jul-14</text>
<text transform="translate(488.75,719.8) rotate(-90) scale(1.0,1)" text-anchor="end" font-size="8.2" stroke="#000" stroke-width="0.25">Sep-14</text>
<text transform="translate(499.69,719.8) rotate(-90) scale(1.0,1)" text-anchor="end" font-size="8.2" stroke="#000" stroke-width="0.25">Nov-14</text>
<text transform="translate(510.64,719.8) rotate(-90) scale(1.0,1)" text-anchor="end" font-size="8.2" stroke="#000" stroke-width="0.25">Jan-15</text>
<text transform="translate(521.58,719.8) rotate(-90) scale(1.0,1)" text-anchor="end" font-size="8.2" stroke="#000" stroke-width="0.25">Mar-15</text>
<text transform="translate(532.53,719.8) rotate(-90) scale(1.0,1)" text-anchor="end" font-size="8.2" stroke="#000" stroke-width="0.25">May-15</text>
<text transform="translate(543.48,719.8) rotate(-90) scale(1.0,1)" text-anchor="end" font-size="8.2" stroke="#000" stroke-width="0.25">Jul-15</text>
<text transform="translate(554.42,719.8) rotate(-90) scale(1.0,1)" text-anchor="end" font-size="8.2" stroke="#000" stroke-width="0.25">Sep-15</text>
<text transform="translate(565.37,719.8) rotate(-90) scale(1.0,1)" text-anchor="end" font-size="8.2" stroke="#000" stroke-width="0.25">Nov-15</text>
<text transform="translate(576.32,719.8) rotate(-90) scale(1.0,1)" text-anchor="end" font-size="8.2" stroke="#000" stroke-width="0.25">Jan-16</text>
<text transform="translate(587.26,719.8) rotate(-90) scale(1.0,1)" text-anchor="end" font-size="8.2" stroke="#000" stroke-width="0.25">Mar-16</text>
<text transform="translate(598.21,719.8) rotate(-90) scale(1.0,1)" text-anchor="end" font-size="8.2" stroke="#000" stroke-width="0.25">May-16</text>
<text transform="translate(609.15,719.8) rotate(-90) scale(1.0,1)" text-anchor="end" font-size="8.2" stroke="#000" stroke-width="0.25">Jul-16</text>
<text transform="translate(620.10,719.8) rotate(-90) scale(1.0,1)" text-anchor="end" font-size="8.2" stroke="#000" stroke-width="0.25">Sep-16</text>
<text transform="translate(631.05,719.8) rotate(-90) scale(1.0,1)" text-anchor="end" font-size="8.2" stroke="#000" stroke-width="0.25">Nov-16</text>
<text transform="translate(641.99,719.8) rotate(-90) scale(1.0,1)" text-anchor="end" font-size="8.2" stroke="#000" stroke-width="0.25">Jan-17</text>
<text transform="translate(652.94,719.8) rotate(-90) scale(1.0,1)" text-anchor="end" font-size="8.2" stroke="#000" stroke-width="0.25">Mar-17</text>
<text transform="translate(663.89,719.8) rotate(-90) scale(1.0,1)" text-anchor="end" font-size="8.2" stroke="#000" stroke-width="0.25">May-17</text>
<text transform="translate(674.83,719.8) rotate(-90) scale(1.0,1)" text-anchor="end" font-size="8.2" stroke="#000" stroke-width="0.25">Aug-17</text>
<text transform="translate(685.78,719.8) rotate(-90) scale(1.0,1)" text-anchor="end" font-size="8.2" stroke="#000" stroke-width="0.25">Oct-17</text>
<text transform="translate(696.72,719.8) rotate(-90) scale(1.0,1)" text-anchor="end" font-size="8.2" stroke="#000" stroke-width="0.25">Dec-17</text>
<text transform="translate(707.67,719.8) rotate(-90) scale(1.0,1)" text-anchor="end" font-size="8.2" stroke="#000" stroke-width="0.25">Feb-18</text>
<text transform="translate(718.62,719.8) rotate(-90) scale(1.0,1)" text-anchor="end" font-size="8.2" stroke="#000" stroke-width="0.25">Apr-18</text>
<text transform="translate(729.56,719.8) rotate(-90) scale(1.0,1)" text-anchor="end" font-size="8.2" stroke="#000" stroke-width="0.25">Jun-18</text>
<text transform="translate(740.51,719.8) rotate(-90) scale(1.0,1)" text-anchor="end" font-size="8.2" stroke="#000" stroke-width="0.25">Aug-18</text>
<text transform="translate(751.46,719.8) rotate(-90) scale(1.0,1)" text-anchor="end" font-size="8.2" stroke="#000" stroke-width="0.25">Oct-18</text>
<text transform="translate(762.40,719.8) rotate(-90) scale(1.0,1)" text-anchor="end" font-size="8.2" stroke="#000" stroke-width="0.25">Dec-18</text>
<text transform="translate(773.35,719.8) rotate(-90) scale(1.0,1)" text-anchor="end" font-size="8.2" stroke="#000" stroke-width="0.25">Feb-19</text>
<text transform="translate(784.29,719.8) rotate(-90) scale(1.0,1)" text-anchor="end" font-size="8.2" stroke="#000" stroke-width="0.25">Apr-19</text>
<text transform="translate(795.24,719.8) rotate(-90) scale(1.0,1)" text-anchor="end" font-size="8.2" stroke="#000" stroke-width="0.25">Jun-19</text>
<text transform="translate(806.19,719.8) rotate(-90) scale(1.0,1)" text-anchor="end" font-size="8.2" stroke="#000" stroke-width="0.25">Aug-19</text>
<text transform="translate(817.13,719.8) rotate(-90) scale(1.0,1)" text-anchor="end" font-size="8.2" stroke="#000" stroke-width="0.25">Oct-19</text>
<text transform="translate(828.08,719.8) rotate(-90) scale(1.0,1)" text-anchor="end" font-size="8.2" stroke="#000" stroke-width="0.25">Dec-19</text>
<text transform="translate(839.03,719.8) rotate(-90) scale(1.0,1)" text-anchor="end" font-size="8.2" stroke="#000" stroke-width="0.25">Feb-20</text>
<text transform="translate(849.97,719.8) rotate(-90) scale(1.0,1)" text-anchor="end" font-size="8.2" stroke="#000" stroke-width="0.25">Apr-20</text>
<text transform="translate(860.92,719.8) rotate(-90) scale(1.0,1)" text-anchor="end" font-size="8.2" stroke="#000" stroke-width="0.25">Jun-20</text>
<text transform="translate(871.86,719.8) rotate(-90) scale(1.0,1)" text-anchor="end" font-size="8.2" stroke="#000" stroke-width="0.25">Aug-20</text>
<text transform="translate(882.81,719.8) rotate(-90) scale(1.0,1)" text-anchor="end" font-size="8.2" stroke="#000" stroke-width="0.25">Oct-20</text>
<text transform="translate(893.76,719.8) rotate(-90) scale(1.0,1)" text-anchor="end" font-size="8.2" stroke="#000" stroke-width="0.25">Dec-20</text>
<text transform="translate(904.70,719.8) rotate(-90) scale(1.0,1)" text-anchor="end" font-size="8.2" stroke="#000" stroke-width="0.25">Feb-21</text>
<text transform="translate(915.65,719.8) rotate(-90) scale(1.0,1)" text-anchor="end" font-size="8.2" stroke="#000" stroke-width="0.25">Apr-21</text>
<text transform="translate(926.60,719.8) rotate(-90) scale(1.0,1)" text-anchor="end" font-size="8.2" stroke="#000" stroke-width="0.25">Jun-21</text>
<text transform="translate(937.54,719.8) rotate(-90) scale(1.0,1)" text-anchor="end" font-size="8.2" stroke="#000" stroke-width="0.25">Aug-21</text>
<text transform="translate(948.49,719.8) rotate(-90) scale(1.0,1)" text-anchor="end" font-size="8.2" stroke="#000" stroke-width="0.25">Oct-21</text>
<text transform="translate(959.43,719.8) rotate(-90) scale(1.0,1)" text-anchor="end" font-size="8.2" stroke="#000" stroke-width="0.25">Dec-21</text>
<text transform="translate(970.38,719.8) rotate(-90) scale(1.0,1)" text-anchor="end" font-size="8.2" stroke="#000" stroke-width="0.25">Feb-22</text>
<text transform="translate(981.33,719.8) rotate(-90) scale(1.0,1)" text-anchor="end" font-size="8.2" stroke="#000" stroke-width="0.25">Apr-22</text>
<text transform="translate(992.27,719.8) rotate(-90) scale(1.0,1)" text-anchor="end" font-size="8.2" stroke="#000" stroke-width="0.25">Jun-22</text>
<text transform="translate(1003.22,719.8) rotate(-90) scale(1.0,1)" text-anchor="end" font-size="8.2" stroke="#000" stroke-width="0.25">Aug-22</text>
<text transform="translate(1014.17,719.8) rotate(-90) scale(1.0,1)" text-anchor="end" font-size="8.2" stroke="#000" stroke-width="0.25">Oct-22</text>
<text transform="translate(1025.11,719.8) rotate(-90) scale(1.0,1)" text-anchor="end" font-size="8.2" stroke="#000" stroke-width="0.25">Dec-22</text>
<text transform="translate(1036.06,719.8) rotate(-90) scale(1.0,1)" text-anchor="end" font-size="8.2" stroke="#000" stroke-width="0.25">Feb-23</text>
<text transform="translate(1047.00,719.8) rotate(-90) scale(1.0,1)" text-anchor="end" font-size="8.2" stroke="#000" stroke-width="0.25">Apr-23</text>
<text transform="translate(1057.95,719.8) rotate(-90) scale(1.0,1)" text-anchor="end" font-size="8.2" stroke="#000" stroke-width="0.25">Jun-23</text>
<text transform="translate(1068.90,719.8) rotate(-90) scale(1.0,1)" text-anchor="end" font-size="8.2" stroke="#000" stroke-width="0.25">Aug-23</text>
<text transform="translate(1079.84,719.8) rotate(-90) scale(1.0,1)" text-anchor="end" font-size="8.2" stroke="#000" stroke-width="0.25">Oct-23</text>
<text transform="translate(1090.79,719.8) rotate(-90) scale(1.0,1)" text-anchor="end" font-size="8.2" stroke="#000" stroke-width="0.25">Dec-23</text>
<text transform="translate(1101.74,719.8) rotate(-90) scale(1.0,1)" text-anchor="end" font-size="8.2" stroke="#000" stroke-width="0.25">Feb-24</text>
<text transform="translate(1112.68,719.8) rotate(-90) scale(1.0,1)" text-anchor="end" font-size="8.2" stroke="#000" stroke-width="0.25">Apr-24</text>
<text transform="translate(1123.63,719.8) rotate(-90) scale(1.0,1)" text-anchor="end" font-size="8.2" stroke="#000" stroke-width="0.25">Jun-24</text>
<text transform="translate(1134.57,719.8) rotate(-90) scale(1.0,1)" text-anchor="end" font-size="8.2" stroke="#000" stroke-width="0.25">Aug-24</text>
<text transform="translate(1145.52,719.8) rotate(-90) scale(1.0,1)" text-anchor="end" font-size="8.2" stroke="#000" stroke-width="0.25">Oct-24</text>
<text transform="translate(1156.47,719.8) rotate(-90) scale(1.0,1)" text-anchor="end" font-size="8.2" stroke="#000" stroke-width="0.25">Dec-24</text>
<text transform="translate(1167.41,719.8) rotate(-90) scale(1.0,1)" text-anchor="end" font-size="8.2" stroke="#000" stroke-width="0.25">Feb-25</text>
<text transform="translate(1178.36,719.8) rotate(-90) scale(1.0,1)" text-anchor="end" font-size="8.2" stroke="#000" stroke-width="0.25">Apr-25</text>
<text transform="translate(1189.31,719.8) rotate(-90) scale(1.0,1)" text-anchor="end" font-size="8.2" stroke="#000" stroke-width="0.25">Jun-25</text>
<text transform="translate(1200.25,719.8) rotate(-90) scale(1.0,1)" text-anchor="end" font-size="8.2" stroke="#000" stroke-width="0.25">Aug-25</text>
<text transform="translate(1211.20,719.8) rotate(-90) scale(1.0,1)" text-anchor="end" font-size="8.2" stroke="#000" stroke-width="0.25">Oct-25</text>
<text transform="translate(1222.14,719.8) rotate(-90) scale(1.0,1)" text-anchor="end" font-size="8.2" stroke="#000" stroke-width="0.25">Dec-25</text>
<text transform="translate(1233.09,719.8) rotate(-90) scale(1.0,1)" text-anchor="end" font-size="8.2" stroke="#000" stroke-width="0.25">Feb-26</text>
<rect x="224" y="758.5" width="19" height="6" fill="#4f81bd"/>
<text x="245" y="765.0" font-size="12.1">Direct Bidder Take Down</text>
<rect x="398" y="758.5" width="19" height="6" fill="#c0504d"/>
<text x="419" y="765.0" font-size="12.1">Primary Dealer Take Down</text>
<rect x="580" y="758.5" width="19" height="6" fill="#9bbb59"/>
<text x="601" y="765.0" font-size="12.1">Indirect Bidder Take Down</text>
<line x1="762" y1="761" x2="781" y2="761" stroke="#ff0000" stroke-width="3.4" stroke-linecap="round"/>
<text x="783" y="765.0" font-size="12.1">Bid To Cover (RH Axis)</text>
<line x1="931" y1="761" x2="950" y2="761" stroke="#000000" stroke-width="4.2" stroke-linecap="round"/>
<text x="952" y="765.0" font-size="12.1">High Yield (RH Axis)</text>
</svg>
</body></html>
